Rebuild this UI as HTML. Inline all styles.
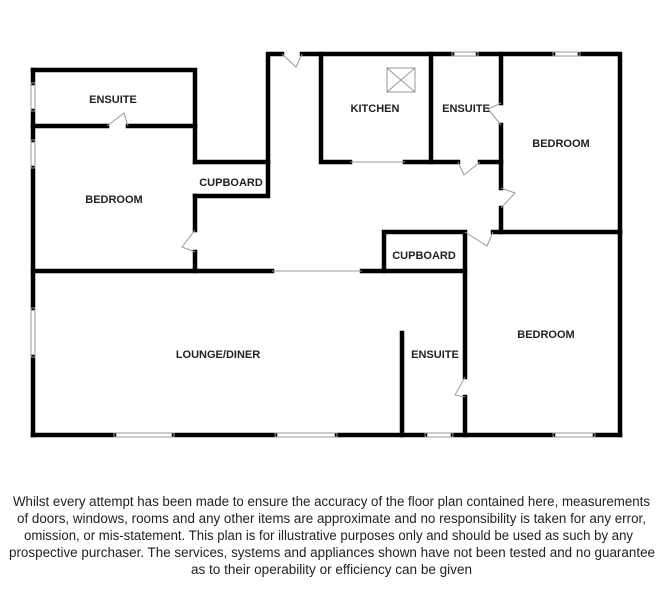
<!DOCTYPE html>
<html><head><style>
html,body{margin:0;padding:0;background:#fff;}
svg{display:block;}
text{font-family:"Liberation Sans",Arial,sans-serif;}
.l{font-size:11px;font-weight:bold;fill:#222;text-anchor:middle;}
.d{font-size:13.5px;fill:#222;}
</style></head><body>
<svg width="670" height="589" viewBox="0 0 670 589" xmlns="http://www.w3.org/2000/svg">
<g stroke="#000" stroke-width="4.5" fill="none" stroke-linecap="square">
<!-- left block -->
<path d="M33 70 H195 V162"/>
<path d="M33 70 V83 M33 111 V140 M33 168 V308 M33 357 V435"/>
<path d="M33 126 H107 M128 126 H195"/>
<path d="M195 162 H268 M195 196 H268 V162"/>
<path d="M195 196 V230 M195 252 V271"/>
<path d="M268 162 V54 H282 M302 54 H452 M478 54 H553 M580 54 H620 V435"/>
<path d="M33 271 H272 M362 271 H465"/>
<!-- kitchen -->
<path d="M321 54 V162 H350 M405 162 H458 M480 162 H501"/>
<path d="M431 54 V162"/>
<path d="M501 54 V103 M501 125 V188 M501 208 V232 H620"/>
<!-- lower cupboard -->
<path d="M384 271 V232 H463 M465 232 V377 M465 397 V435"/>
<path d="M493 232 H501"/>
<!-- bottom -->
<path d="M33 435 H114 M174 435 H275 M337 435 H425 M453 435 H553 M595 435 H620"/>
<path d="M402 333 V435"/>
</g>
<g stroke="#999" stroke-width="1" fill="none">
<!-- windows -->
<rect x="31" y="83" width="4" height="28"/><rect x="31" y="140" width="4" height="28"/>
<rect x="31" y="308" width="4" height="49"/>
<rect x="452" y="52" width="26" height="4"/><rect x="553" y="52" width="27" height="4"/>
<rect x="114" y="433" width="60" height="4"/><rect x="275" y="433" width="62" height="4"/>
<rect x="425" y="433" width="28" height="4"/><rect x="553" y="433" width="42" height="4"/>
<path d="M272 271 H362 M350 162 H405"/>
<!-- skylight -->
<rect x="387" y="68" width="28" height="24"/><path d="M387 68 L415 92 M415 68 L387 92"/>
<!-- doors -->
<path d="M107 126 L124 113 L128 126"/>
<path d="M282 54 L296 67 L302 54"/>
<path d="M195 230 L182 247 L195 252"/>
<path d="M501 103 L488 109 L501 125"/>
<path d="M458 162 L464 175 L480 162"/>
<path d="M501 188 L515 193 L501 208"/>
<path d="M465 232 L487 246 L493 232"/>
<path d="M465 377 L455 395 L465 397"/>
</g>
<text class="l" x="113" y="103">ENSUITE</text>
<text class="l" x="114" y="203">BEDROOM</text>
<text class="l" x="231" y="186">CUPBOARD</text>
<text class="l" x="375" y="112">KITCHEN</text>
<text class="l" x="466" y="112">ENSUITE</text>
<text class="l" x="561" y="147">BEDROOM</text>
<text class="l" x="424" y="259">CUPBOARD</text>
<text class="l" x="218" y="358">LOUNGE/DINER</text>
<text class="l" x="435" y="358">ENSUITE</text>
<text class="l" x="546" y="338">BEDROOM</text>
<text class="d" x="13" y="506" textLength="637" lengthAdjust="spacingAndGlyphs">Whilst every attempt has been made to ensure the accuracy of the floor plan contained here, measurements</text>
<text class="d" x="17" y="523" textLength="629" lengthAdjust="spacingAndGlyphs">of doors, windows, rooms and any other items are approximate and no responsibility is taken for any error,</text>
<text class="d" x="24" y="540" textLength="609" lengthAdjust="spacingAndGlyphs">omission, or mis-statement. This plan is for illustrative purposes only and should be used as such by any</text>
<text class="d" x="9" y="557" textLength="646" lengthAdjust="spacingAndGlyphs">prospective purchaser. The services, systems and appliances shown have not been tested and no guarantee</text>
<text class="d" x="191" y="574" textLength="281" lengthAdjust="spacingAndGlyphs">as to their operability or efficiency can be given</text>
</svg>
</body></html>
